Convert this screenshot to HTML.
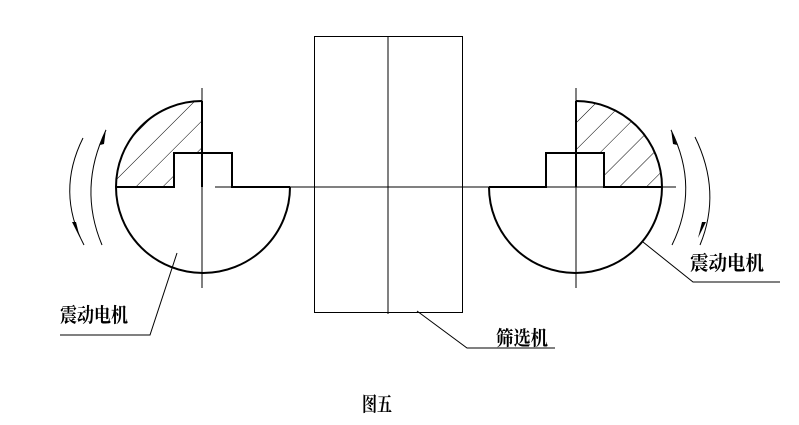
<!DOCTYPE html>
<html><head><meta charset="utf-8"><style>
html,body{margin:0;padding:0;background:#fff;}
svg{display:block;}
text{font-family:"Liberation Serif","Noto Serif CJK SC","Noto Sans CJK SC",serif;font-weight:bold;fill:#000;}
</style></head><body>
<svg width="799" height="425" viewBox="0 0 799 425" xmlns="http://www.w3.org/2000/svg">
<defs>
<clipPath id="cl"><path d="M202,187 L116,187 A86,86 0 0 1 202,101 Z M174,187 L174,153 L202,153 L202,187 Z" clip-rule="evenodd"/></clipPath>
<clipPath id="cr"><path d="M576,187 L662,187 A86,86 0 0 0 576,101 Z"/></clipPath>
<pattern id="h" width="19" height="19" patternUnits="userSpaceOnUse" patternTransform="rotate(45)">
<line x1="0" y1="0" x2="0" y2="19" stroke="#000" stroke-width="1"/></pattern>
</defs>
<g clip-path="url(#cl)"><rect x="100" y="90" width="110" height="100" fill="url(#h)"/><rect x="174" y="153" width="28" height="34" fill="#fff"/></g>
<g clip-path="url(#cr)"><rect x="570" y="90" width="100" height="100" fill="url(#h)"/><rect x="576" y="153" width="28" height="34" fill="#fff"/></g>
<g fill="none" stroke="#000" stroke-width="2">
<path d="M202,101 A86,86 0 0 0 116,187"/>
<path d="M202,101 L202,187"/>
<path d="M116,187 L174,187 L174,153 L232,153 L232,187 L290,187"/>
<path d="M116,187 A87,86 0 0 0 290,187"/>
<path d="M576,101 A86,86 0 0 1 662,187"/>
<path d="M576,101 L576,187"/>
<path d="M489,187 L546,187 L546,153 L604,153 L604,187 L662,187"/>
<path d="M489,187 A86.5,86 0 0 0 662,187"/>
</g>
<g fill="none" stroke="#000" stroke-width="1">
<line x1="202" y1="88" x2="202" y2="288"/>
<line x1="576" y1="88" x2="576" y2="288"/>
<line x1="215" y1="187" x2="676" y2="187"/>
<rect x="314.5" y="36.5" width="148" height="276"/>
<line x1="388" y1="36" x2="388" y2="314"/>
<polyline points="177,253 150,335 60,335"/>
<polyline points="643,242 693,282 780,282"/>
<polyline points="417,311 467,348 555,348"/>
<path d="M83,138 Q56,192 84,245"/>
<path d="M106,130 Q78,188 102,245"/>
<path d="M671,130 Q700,188 672,245"/>
<path d="M695,137 Q722,192 700,245"/>
</g>
<g fill="#000">
<polygon points="106,129 100,145 104,144"/>
<polygon points="80,238 72,222 76,222"/>
<polygon points="671,129 677,145 673,144"/>
<polygon points="698,238 706,222 702,222"/>
</g>
<text x="60" y="322" font-size="20" textLength="68" lengthAdjust="spacingAndGlyphs">震动电机</text>
<text x="690" y="270" font-size="20" textLength="74" lengthAdjust="spacingAndGlyphs">震动电机</text>
<text x="496" y="345" font-size="20" textLength="52" lengthAdjust="spacingAndGlyphs">筛选机</text>
<text x="362" y="411" font-size="20" textLength="30" lengthAdjust="spacingAndGlyphs">图五</text>
</svg>
</body></html>
